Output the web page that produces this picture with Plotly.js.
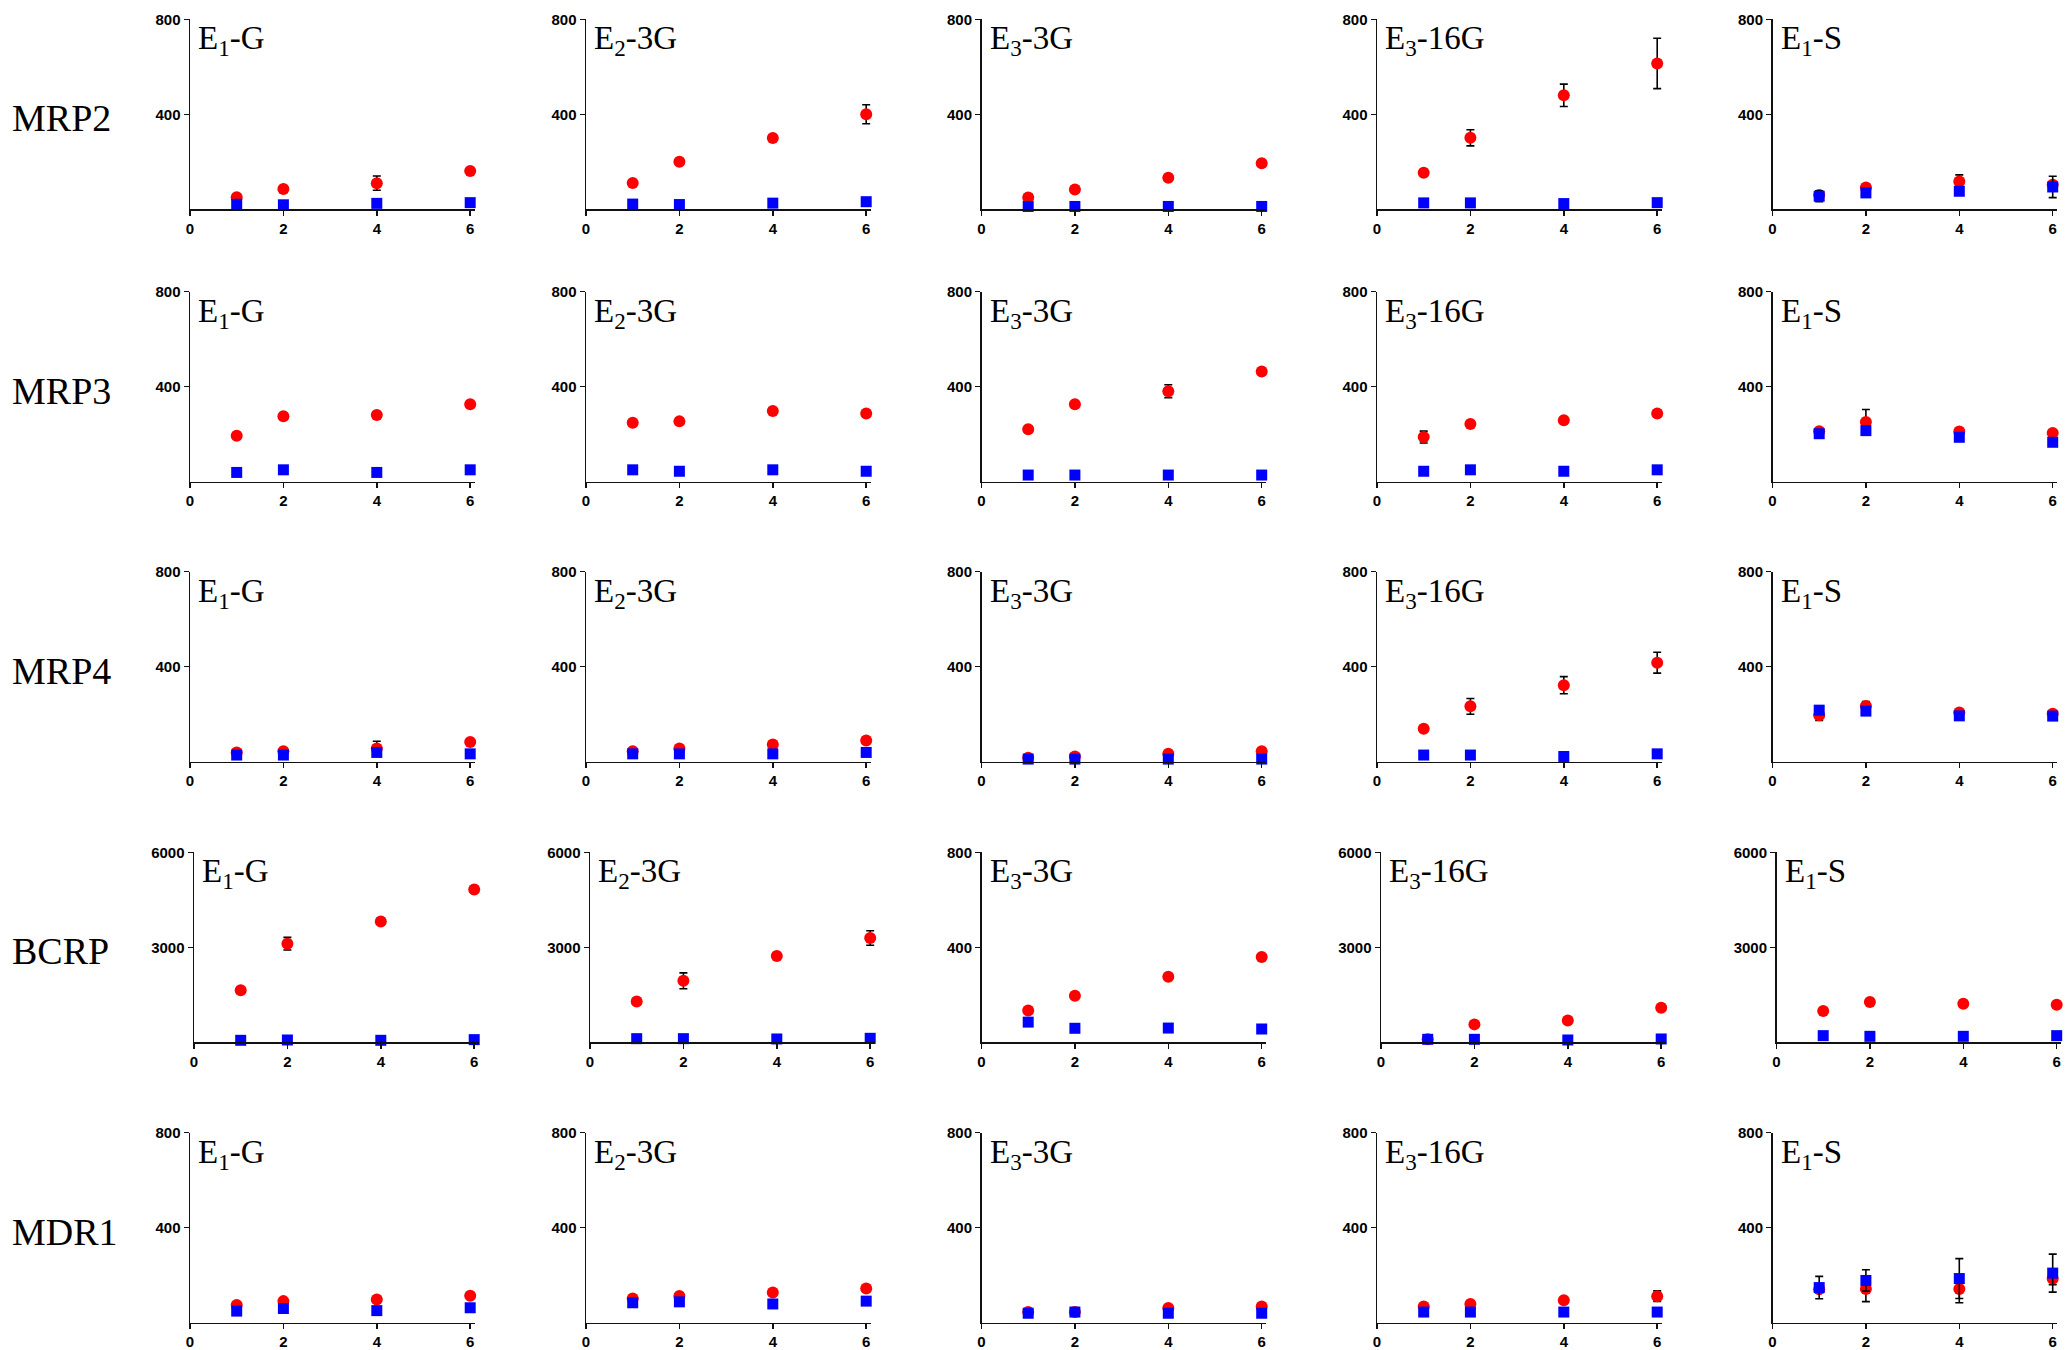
<!DOCTYPE html>
<html>
<head>
<meta charset="utf-8">
<script src="https://cdn.plot.ly/plotly-3.0.1.min.js"></script>
<style>
  body { margin: 0; background: #fff; }
  #graph { width: 2066px; height: 1350px; }
</style>
</head>
<body>
<div id="graph"></div>
<script>
const hours = [1, 2, 4, 6];
const transporters = ["MRP2", "MRP3", "MRP4", "BCRP", "MDR1"];
const conjugates = ["E<sub>1</sub>-G", "E<sub>2</sub>-3G", "E<sub>3</sub>-3G", "E<sub>3</sub>-16G", "E<sub>1</sub>-S"];
const yTop = [
  [800, 800, 800, 800, 800],
  [800, 800, 800, 800, 800],
  [800, 800, 800, 800, 800],
  [6000, 6000, 800, 6000, 6000],
  [800, 800, 800, 800, 800],
];

// red circles, one row per transporter, one list per conjugate
const mrp2Red = [[51, 85, 110, 161], [111, 200, 300, 400], [50, 83, 133, 194], [154, 301, 480, 614], [60, 92, 117, 103]];
const mrp3Red = [[193, 276, 281, 326], [248, 254, 298, 287], [221, 326, 381, 464], [188, 243, 259, 287], [212, 251, 211, 205]];
const mrp4Red = [[39, 44, 56, 83], [44, 56, 72, 89], [17, 22, 33, 44], [139, 233, 322, 417], [196, 235, 207, 202]];
const bcrpRed = [[1647, 3115, 3818, 4825], [1290, 1941, 2727, 3294], [134, 196, 276, 359], [100, 566, 692, 1091], [986, 1269, 1217, 1185]];
const mdr1Red = [[74, 90, 97, 113], [101, 112, 126, 143], [44, 44, 61, 67], [67, 78, 94, 111], [140, 141, 141, 184]];

const mrp2RedErr = [[null, null, 30, null], [null, null, null, 40], [null, null, null, null], [null, 34, 47, 106], [null, null, 28, null]];
const mrp3RedErr = [[null, null, null, null], [null, null, null, null], [null, null, 27, null], [25, null, null, null], [null, 53, null, null]];
const mrp4RedErr = [[null, null, 30, null], [null, null, null, null], [null, null, null, null], [null, 33, 36, 44], [22, 18, null, null]];
const bcrpRedErr = [[null, 200, null, null], [null, 250, null, 230], [null, null, null, null], [null, null, null, null], [null, null, null, null]];
const mdr1RedErr = [[null, null, null, null], [null, null, null, null], [null, null, null, null], [null, null, null, 22], [null, 53, 58, 25]];

// blue squares
const mrp2Blue = [[21, 19, 25, 28], [22, 20, 26, 32], [12, 12, 12, 12], [27, 27, 24, 28], [55, 69, 76, 94]];
const mrp3Blue = [[39, 50, 39, 50], [50, 44, 50, 44], [28, 28, 28, 28], [44, 50, 44, 50], [202, 215, 187, 166]];
const mrp4Blue = [[28, 28, 39, 33], [33, 33, 33, 39], [11, 11, 11, 11], [28, 28, 22, 33], [217, 213, 193, 192]];
const bcrpBlue = [[63, 73, 63, 84], [115, 115, 105, 126], [85, 59, 60, 56], [94, 94, 73, 105], [210, 189, 189, 210]];
const mdr1Blue = [[48, 59, 50, 62], [83, 87, 78, 90], [39, 44, 39, 39], [44, 44, 44, 44], [147, 177, 185, 208]];

const mrp2BlueErr = [[null, null, null, null], [null, null, null, null], [null, null, null, null], [null, null, null, null], [23, null, null, 45]];
const noErr = [[null, null, null, null], [null, null, null, null], [null, null, null, null], [null, null, null, null], [null, null, null, null]];
const mdr1BlueErr = [[null, null, null, null], [null, null, null, null], [null, null, null, null], [null, null, null, null], [47, 45, 84, 80]];

const redSets = [mrp2Red, mrp3Red, mrp4Red, bcrpRed, mdr1Red];
const redErrSets = [mrp2RedErr, mrp3RedErr, mrp4RedErr, bcrpRedErr, mdr1RedErr];
const blueSets = [mrp2Blue, mrp3Blue, mrp4Blue, bcrpBlue, mdr1Blue];
const blueErrSets = [mrp2BlueErr, noErr, noErr, noErr, mdr1BlueErr];

// panel geometry in pixels
var W = 2066, H = 1350;
var colX = [190, 586, 981.5, 1377, 1772.5];
var rowBase = [209.3, 481.7, 761.7, 1042.3, 1322.5];
var plotH = 190;
var unitPx = 46.7;
var xMax = 6.1;

var serif = "Liberation Serif, Times New Roman, serif";
var sans = "Liberation Sans, Arial, sans-serif";

var traces = [];
var layout = {
  width: W,
  height: H,
  margin: { l: 0, r: 0, t: 0, b: 0 },
  paper_bgcolor: "#fff",
  plot_bgcolor: "#fff",
  showlegend: false,
  annotations: [],
};

for (var r = 0; r < 5; r++) {
  layout.annotations.push({
    text: transporters[r],
    xref: "paper", yref: "paper",
    x: 10 / W, xanchor: "left",
    y: 1 - (rowBase[r] - plotH / 2 + 4) / H, yanchor: "middle",
    showarrow: false,
    font: { family: serif, size: 38, color: "#000" },
  });
  for (var c = 0; c < 5; c++) {
    var k = r * 5 + c + 1;
    var sfx = k == 1 ? "" : String(k);
    var yMaxVal = yTop[r][c];
    var leftPx = colX[c] + (yMaxVal > 800 ? 4 : 0);

    layout["xaxis" + sfx] = {
      domain: [leftPx / W, (leftPx + xMax * unitPx) / W],
      anchor: "y" + sfx,
      range: [0, xMax],
      tickvals: [0, 2, 4, 6],
      showgrid: false, zeroline: false,
      showline: true, linecolor: "#111", linewidth: 1.5,
      ticks: "outside", ticklen: 5, tickwidth: 1.5, tickcolor: "#111",
      tickfont: { family: sans, size: 15, color: "#000", weight: "bold" },
      fixedrange: true,
    };
    layout["yaxis" + sfx] = {
      domain: [1 - rowBase[r] / H, 1 - (rowBase[r] - plotH) / H],
      anchor: "x" + sfx,
      range: [0, yMaxVal],
      tickvals: [yMaxVal / 2, yMaxVal],
      showgrid: false, zeroline: false,
      showline: true, linecolor: "#111", linewidth: 1.5,
      ticks: "outside", ticklen: 5, tickwidth: 1.5, tickcolor: "#111",
      tickfont: { family: sans, size: 15, color: "#000", weight: "bold" },
      fixedrange: true,
    };

    traces.push({
      x: hours,
      y: redSets[r][c],
      xaxis: "x" + sfx, yaxis: "y" + sfx,
      type: "scatter", mode: "markers",
      cliponaxis: false,
      marker: { symbol: "circle", size: 12, color: "#ff0000" },
      error_y: { type: "data", array: redErrSets[r][c], color: "#000", thickness: 1.6, width: 4 },
    });
    traces.push({
      x: hours,
      y: blueSets[r][c],
      xaxis: "x" + sfx, yaxis: "y" + sfx,
      type: "scatter", mode: "markers",
      cliponaxis: false,
      marker: { symbol: "square", size: 11, color: "#0000ff" },
      error_y: { type: "data", array: blueErrSets[r][c], color: "#000", thickness: 1.6, width: 4 },
    });

    layout.annotations.push({
      text: conjugates[c],
      xref: "paper", yref: "paper",
      x: (leftPx + 6) / W, xanchor: "left",
      y: 1 - (rowBase[r] - plotH - 1) / H, yanchor: "top",
      showarrow: false,
      font: { family: serif, size: 33, color: "#000" },
    });
  }
}

Plotly.newPlot("graph", traces, layout, { displayModeBar: false, staticPlot: true });
</script>
</body>
</html>
